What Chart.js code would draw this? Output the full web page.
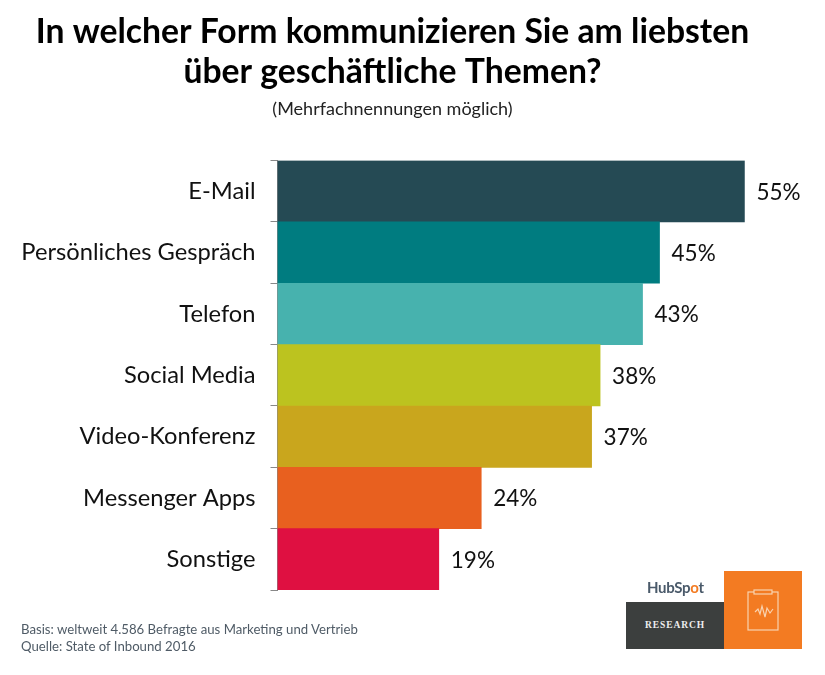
<!DOCTYPE html>
<html>
<head>
<meta charset="utf-8">
<script src="https://cdn.jsdelivr.net/npm/chart.js@4"></script>
<style>
  html, body { margin: 0; padding: 0; background: #fff; }
  #wrap { position: relative; width: 825px; height: 675px; overflow: hidden; font-family: Lato, sans-serif; }
  #footnote { position: absolute; left: 21px; top: 621px; font-size: 13.2px; line-height: 16.5px; color: #4f5b66; }
  #hubspot { position: absolute; left: 647px; top: 578px; font-size: 15px; font-weight: 700; color: #4a5a6a; letter-spacing: -0.3px; }
  #hubspot span { color: #f37b22; }
  #research { position: absolute; left: 626px; top: 602px; width: 98px; height: 47px; background: #3c3f3e; color: #eee;
    font: bold 9.5px/47px "Liberation Serif", serif; letter-spacing: 0.9px; text-align: center; }
  #badge { position: absolute; left: 724px; top: 571px; width: 78px; height: 78px; background: #f37b22; }
</style>
</head>
<body>
<div id="wrap">
  <canvas id="chart" width="825" height="675"></canvas>
  <div id="footnote">Basis: weltweit 4.586 Befragte aus Marketing und Vertrieb<br>Quelle: State of Inbound 2016</div>
  <div id="hubspot">HubSp<span>o</span>t</div>
  <div id="research">RESEARCH</div>
  <div id="badge">
    <svg width="78" height="78" fill="none" stroke="#f9d3b0" stroke-width="1.2">
      <rect x="24" y="21" width="30" height="38"/>
      <rect x="30" y="19" width="18" height="4" fill="#f37b22"/>
      <polyline points="31,41 34,38 36,43 38,35 41,46 43,37 46,42 49,38"/>
    </svg>
  </div>
</div>
<script>
const categories = ['E-Mail', 'Persönliches Gespräch', 'Telefon', 'Social Media', 'Video-Konferenz', 'Messenger Apps', 'Sonstige'];
const values = [55, 45, 43, 38, 37, 24, 19];
const barColors = ['#254a54', '#007c80', '#47b2ae', '#bcc31f', '#c9a61d', '#e8601f', '#df1041'];
const titleLines = ['In welcher Form kommunizieren Sie am liebsten', 'über geschäftliche Themen?'];
const subtitleText = '(Mehrfachnennungen möglich)';

// prozentwerte rechts neben die balken schreiben
const valueLabels = {
  id: 'valueLabels',
  afterDatasetsDraw(chart) {
    const ctx = chart.ctx;
    const bars = chart.getDatasetMeta(0).data;
    ctx.save();
    ctx.font = '22.5px Lato, sans-serif';
    ctx.fillStyle = '#111';
    ctx.textBaseline = 'middle';
    bars.forEach(function(bar, i) {
      ctx.fillText(values[i] + '%', bar.x + 12, bar.y + 1);
    });
    ctx.restore();
  }
};

new Chart(document.getElementById('chart'), {
  type: 'bar',
  data: {
    labels: categories,
    datasets: [{
      data: values,
      backgroundColor: barColors,
      barPercentage: 1,
      categoryPercentage: 1,
      borderWidth: 0
    }]
  },
  plugins: [valueLabels],
  options: {
    indexAxis: 'y',
    responsive: false,
    animation: false,
    layout: { padding: { left: 0, right: 40, top: 12, bottom: 85 } },
    plugins: {
      legend: { display: false },
      tooltip: { enabled: false },
      title: {
        display: true,
        text: titleLines,
        color: '#000',
        font: { family: 'Lato, sans-serif', size: 33.7, weight: 'bold', lineHeight: 1.187 },
        padding: { top: 0, bottom: 6 }
      },
      subtitle: {
        display: true,
        text: subtitleText,
        color: '#222',
        font: { family: 'Lato, sans-serif', size: 18, weight: 'normal' },
        padding: { top: 0, bottom: 41 }
      }
    },
    scales: {
      x: { display: false, min: 0, max: 59.78 },
      y: {
        afterFit(scale) { scale.width = 277.5; },
        border: { color: '#888', width: 1 },
        grid: { drawOnChartArea: false, drawTicks: true, tickLength: 7, color: '#888', offset: true },
        ticks: { color: '#111', padding: 15, font: { family: 'Lato, sans-serif', size: 23.7 } }
      }
    }
  }
});
</script>
</body>
</html>
